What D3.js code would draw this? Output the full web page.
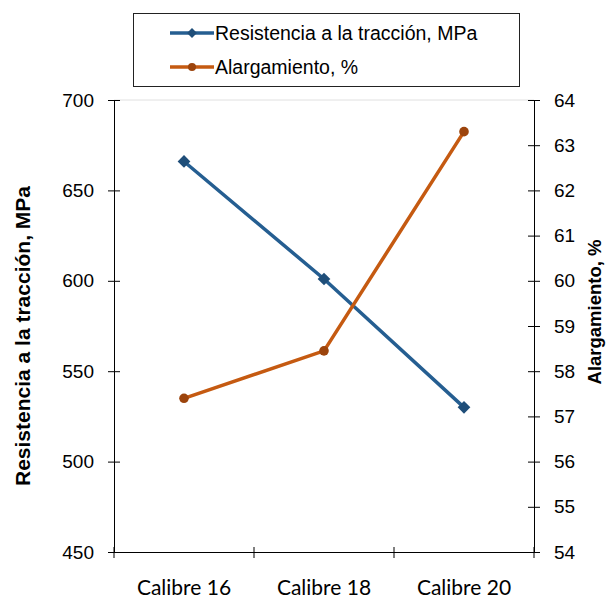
<!DOCTYPE html>
<html><head><meta charset="utf-8">
<script src="https://cdn.jsdelivr.net/npm/d3@7"></script>
<style>body{margin:0;background:#fff}svg{display:block}</style>
</head><body>
<script>
const categories = ["Calibre 16", "Calibre 18", "Calibre 20"];
const resistencia = [666, 601, 530];
const alargamiento = [57.4, 58.45, 63.3];
const leftTicks = [450, 500, 550, 600, 650, 700];
const rightTicks = [54, 55, 56, 57, 58, 59, 60, 61, 62, 63, 64];
const seriesNames = ["Resistencia a la tracción, MPa", "Alargamiento, %"];
const axisTitles = ["Resistencia a la tracción, MPa", "Alargamiento, %"];

const W = 606, H = 599;
const m = {l:114, r:534, t:100, b:552};
const blue = "#255e91", blueDark = "#1f4e79";
const orange = "#c55a11", orangeDark = "#9c440c";
const FONT = "Liberation Sans, Arial, sans-serif";

const svg = d3.select("body").append("svg").attr("width", W).attr("height", H);

const x = d3.scaleBand().domain(categories).range([m.l, m.r]);
const yL = d3.scaleLinear().domain([450, 700]).range([m.b, m.t]);
const yR = d3.scaleLinear().domain([54, 64]).range([m.b, m.t]);

svg.append("line").attr("x1", m.l).attr("x2", m.r).attr("y1", m.t).attr("y2", m.t)
  .attr("stroke", "#e0e0e0").attr("stroke-width", 1);

const gL = svg.append("g").attr("transform", `translate(${m.l},0)`)
  .call(d3.axisLeft(yL).tickValues(leftTicks).tickSizeInner(6).tickSizeOuter(0).tickPadding(14));
gL.selectAll(".tick line").attr("x2", 6).attr("x1", -6).attr("stroke", "#000");
gL.selectAll("text").attr("font-family", FONT).attr("font-size", 19).attr("fill", "#000");
gL.select(".domain").attr("stroke", "#000");

const gR = svg.append("g").attr("transform", `translate(${m.r},0)`)
  .call(d3.axisRight(yR).tickValues(rightTicks).tickSizeInner(6).tickSizeOuter(0).tickPadding(14));
gR.selectAll(".tick line").attr("x1", -6).attr("x2", 6).attr("stroke", "#000");
gR.selectAll("text").attr("font-family", FONT).attr("font-size", 19).attr("fill", "#000");
gR.select(".domain").attr("stroke", "#000");

const gB = svg.append("g").attr("transform", `translate(0,${m.b})`)
  .call(d3.axisBottom(x).tickSize(0).tickPadding(28));
gB.select(".domain").attr("stroke", "#000");
gB.selectAll("text").attr("font-family", "Lato, Carlito, sans-serif").attr("font-size", 21).attr("fill", "#000");
const bounds = [m.l, ...categories.map(c => x(c) + x.bandwidth())];
gB.selectAll(".btick").data(bounds).enter().append("line")
  .attr("x1", d => d).attr("x2", d => d).attr("y1", -5).attr("y2", 6).attr("stroke", "#000");

svg.append("text").attr("transform", `translate(30,${(m.t+m.b)/2 + 10}) rotate(-90)`)
  .attr("text-anchor", "middle").attr("font-family", FONT)
  .attr("font-weight", "bold").attr("font-size", 21).text(axisTitles[0]);
svg.append("text").attr("transform", `translate(601,${(m.t+m.b)/2 - 14}) rotate(-90)`)
  .attr("text-anchor", "middle").attr("font-family", FONT)
  .attr("font-weight", "bold").attr("font-size", 18.5).text(axisTitles[1]);

const cx = c => x(c) + x.bandwidth()/2;

svg.append("path").datum(resistencia)
  .attr("d", d3.line().x((d,i) => cx(categories[i])).y(d => yL(d)))
  .attr("fill", "none").attr("stroke", blue).attr("stroke-width", 3.5);
svg.selectAll(".bm").data(resistencia).enter().append("rect")
  .attr("x", -4.5).attr("y", -4.5).attr("width", 9).attr("height", 9)
  .attr("transform", (d,i) => `translate(${cx(categories[i])},${yL(d)}) rotate(45)`)
  .attr("fill", blueDark);

svg.append("path").datum(alargamiento)
  .attr("d", d3.line().x((d,i) => cx(categories[i])).y(d => yR(d)))
  .attr("fill", "none").attr("stroke", orange).attr("stroke-width", 3.5);
svg.selectAll(".om").data(alargamiento).enter().append("circle")
  .attr("cx", (d,i) => cx(categories[i])).attr("cy", d => yR(d)).attr("r", 4.8)
  .attr("fill", orangeDark);

const lg = svg.append("g");
lg.append("rect").attr("x", 133.5).attr("y", 13.5).attr("width", 386).attr("height", 73)
  .attr("fill", "#fff").attr("stroke", "#222").attr("stroke-width", 1);
const legendItems = [
  {name: seriesNames[0], color: blue, mcolor: blueDark, sym: "d"},
  {name: seriesNames[1], color: orange, mcolor: orangeDark, sym: "c"}
];
legendItems.forEach((it, i) => {
  const yy = 33 + i*34;
  lg.append("line").attr("x1", 170).attr("x2", 214).attr("y1", yy).attr("y2", yy)
    .attr("stroke", it.color).attr("stroke-width", 3.5);
  if (it.sym === "d") {
    lg.append("rect").attr("x", -3.5).attr("y", -3.5).attr("width", 7).attr("height", 7)
      .attr("transform", `translate(192,${yy}) rotate(45)`).attr("fill", it.mcolor);
  } else {
    lg.append("circle").attr("cx", 192).attr("cy", yy).attr("r", 4).attr("fill", it.mcolor);
  }
  lg.append("text").attr("x", 215).attr("y", yy + 7).attr("font-family", FONT)
    .attr("font-size", 19.5).attr("fill", "#000").text(it.name);
});
</script>
</body></html>
